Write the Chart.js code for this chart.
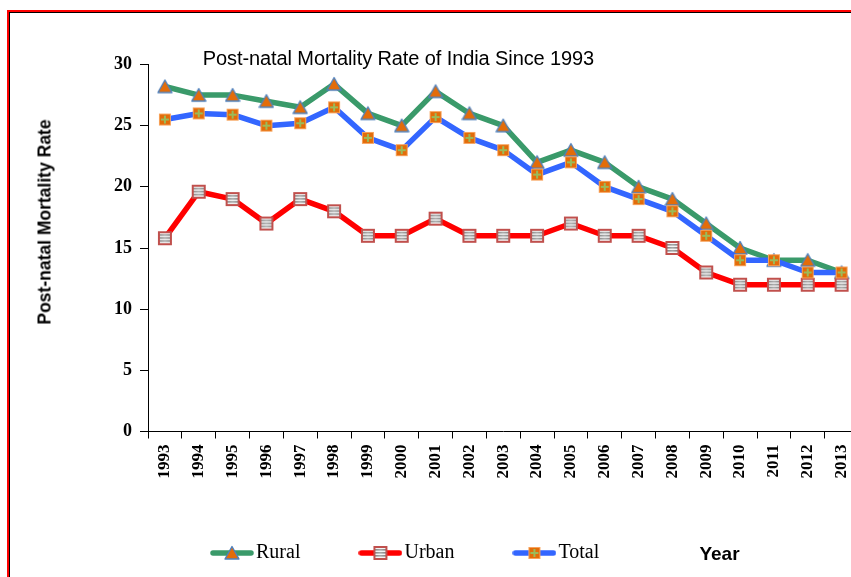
<!DOCTYPE html>
<html><head><meta charset="utf-8">
<script src="https://cdn.jsdelivr.net/npm/chart.js@4"></script>
<style>
html,body{margin:0;padding:0;width:851px;height:577px;overflow:hidden;background:#fff;}
#wrap{position:relative;width:851px;height:577px;overflow:hidden;}
#frame{position:absolute;left:7px;top:10px;width:900px;height:700px;border-left:2px solid #f00;border-top:2px solid #f00;}
#frame2{position:absolute;left:9px;top:12px;width:900px;height:700px;border-left:1px solid #000;border-top:1px solid #000;}
canvas{position:absolute;left:0;top:0;}
.t{position:absolute;white-space:nowrap;line-height:1;color:#000;}
#title{left:398.5px;top:57.7px;transform:translate(-50%,-50%);font:20px 'Liberation Sans',Arial,sans-serif;letter-spacing:-0.1px;}
#ytitle{left:45px;top:222px;transform:translate(-50%,-50%) rotate(-90deg);font:bold 17.5px 'Liberation Sans',Arial,sans-serif;}
#xtitle{left:719.5px;top:553.7px;transform:translate(-50%,-50%);font:bold 19px 'Liberation Sans',Arial,sans-serif;}
</style></head><body>
<div id="wrap">
<div id="frame"></div><div id="frame2"></div>
<canvas id="c" width="870" height="577"></canvas>
<div class="t" id="title">Post-natal Mortality Rate of India Since 1993</div>
<div class="t" id="ytitle">Post-natal Mortality Rate</div>
<div class="t" id="xtitle">Year</div>
</div>
<script>
const years = ['1993','1994','1995','1996','1997','1998','1999','2000','2001','2002','2003','2004','2005','2006','2007','2008','2009','2010','2011','2012','2013'];
const rural = [28.2, 27.5, 27.5, 27, 26.5, 28.4, 26, 25, 27.8, 26, 25, 22, 23, 22, 20, 19, 17, 15, 14, 14, 13];
const urban = [15.8, 19.6, 19, 17, 19, 18, 16, 16, 17.4, 16, 16, 16, 17, 16, 16, 15, 13, 12, 12, 12, 12];
const total = [25.5, 26, 25.9, 25, 25.2, 26.5, 24, 23, 25.7, 24, 23, 21, 22, 20, 19, 18, 16, 14, 14, 13, 13];
const yTicks = [0, 5, 10, 15, 20, 25, 30];
const seriesNames = ['Rural', 'Urban', 'Total'];
const lineColors = ['#3A9A6A', '#FF0000', '#3366FF'];

function mk(w, h, draw) { const c = document.createElement('canvas'); c.width = w; c.height = h; draw(c.getContext('2d')); return c; }
function drawTri(ctx, cx, cy) {
  ctx.beginPath(); ctx.moveTo(cx, cy - 6.5); ctx.lineTo(cx + 7, cy + 6); ctx.lineTo(cx - 7, cy + 6); ctx.closePath();
  ctx.fillStyle = '#E36C09'; ctx.fill(); ctx.lineWidth = 1.4; ctx.strokeStyle = '#4F81BD'; ctx.lineJoin = 'round'; ctx.stroke();
}
function drawUrb(ctx, cx, cy) {
  const x = cx - 7, y = cy - 7;
  ctx.fillStyle = '#C0504D'; ctx.fillRect(x, y, 14, 14);
  ctx.fillStyle = '#F4F4F4'; ctx.fillRect(x + 2, y + 2, 10, 10);
  const g = ctx.createLinearGradient(x, 0, x + 14, 0);
  g.addColorStop(0, '#7A7A7A'); g.addColorStop(0.5, '#A8A8A8'); g.addColorStop(1, '#7A7A7A');
  ctx.fillStyle = g;
  [3, 6, 9].forEach(o => ctx.fillRect(x + 2, y + o, 10, 1.6));
}
function drawTot(ctx, cx, cy) {
  const x = cx - 6, y = cy - 6;
  ctx.fillStyle = '#F7A35C'; ctx.fillRect(x, y, 12, 12);
  ctx.fillStyle = '#E36C09'; ctx.fillRect(x + 1, y + 1, 10, 10);
  ctx.fillStyle = '#9BBB59'; ctx.fillRect(x + 5, y + 2, 2, 8); ctx.fillRect(x + 2, y + 5, 8, 2);
}
const markerFns = [drawTri, drawUrb, drawTot];
const pointImgs = markerFns.map(f => mk(16, 16, ctx => f(ctx, 8, 8)));
const legendImgs = markerFns.map((f, i) => mk(44, 16, ctx => {
  ctx.strokeStyle = lineColors[i]; ctx.lineWidth = 5.5; ctx.lineCap = 'round';
  ctx.beginPath(); ctx.moveTo(3, 8); ctx.lineTo(41, 8); ctx.stroke();
  f(ctx, 22, 8);
}));
const seriesData = [rural, urban, total];

const layoutShift = {
  id: 'layoutShift',
  afterLayout(chart) {
    const l = chart.legend;
    if (l) { l.left += 152; l.right += 152; l.top -= 4; l.bottom -= 4; }
  }
};

const serif = "'Liberation Serif', 'Times New Roman', serif";
new Chart(document.getElementById('c'), {
  type: 'line',
  data: {
    labels: years,
    datasets: seriesNames.map((name, i) => ({
      label: name,
      data: seriesData[i],
      borderColor: lineColors[i],
      backgroundColor: lineColors[i],
      borderWidth: 5.5,
      borderJoinStyle: 'round',
      tension: 0,
      fill: false,
      pointStyle: pointImgs[i],
      pointRadius: 6,
      pointHoverRadius: 6,
      order: 3 - i
    }))
  },
  options: {
    responsive: false,
    animation: false,
    events: [],
    layout: { padding: { top: 64.5, right: 10, left: 0, bottom: 0 } },
    plugins: {
      title: { display: false },
      tooltip: { enabled: false },
      legend: {
        display: true,
        position: 'bottom',
        align: 'start',
        labels: {
          usePointStyle: true,
          pointStyleWidth: 28,
          padding: 66,
          color: '#000',
          font: { family: serif, size: 20 },
          sort: (a, b) => a.datasetIndex - b.datasetIndex,
          generateLabels: (chart) => Chart.defaults.plugins.legend.labels.generateLabels(chart).map(l => Object.assign(l, { pointStyle: legendImgs[l.datasetIndex] }))
        }
      }
    },
    scales: {
      x: {
        type: 'category',
        offset: true,
        grid: { offset: true, drawOnChartArea: false, drawTicks: true, tickLength: 7, color: '#000' },
        border: { display: true, color: '#000', width: 1 },
        ticks: { minRotation: 90, maxRotation: 90, autoSkip: false, padding: 6, color: '#000', font: { family: serif, size: 17, weight: 'bold' } },
        afterFit(s) { s.height = 49.5; }
      },
      y: {
        min: 0, max: 30,
        afterBuildTicks(s) { s.ticks = yTicks.map(v => ({ value: v })); },
        ticks: { padding: 8, color: '#000', font: { family: serif, size: 18, weight: 'bold' } },
        grid: { drawOnChartArea: false, drawTicks: true, tickLength: 8, color: '#000' },
        border: { display: true, color: '#000', width: 1 },
        afterFit(s) { s.width = 148; }
      }
    }
  },
  plugins: [layoutShift]
});
</script>
</body></html>
